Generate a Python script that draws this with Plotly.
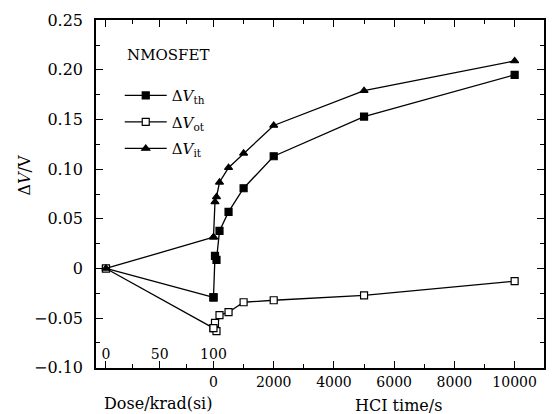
import plotly.graph_objects as go

# ---- data ----
dose = [0, 100]
dose_vth = [0, -0.029]
dose_vot = [0, -0.060]
dose_vit = [0, 0.0315]

hci_time = [0, 50, 100, 200, 500, 1000, 2000, 5000, 10000]
hci_vth = [-0.029, 0.0127, 0.0087, 0.0378, 0.057, 0.0808, 0.113, 0.153, 0.195]
hci_vot = [-0.060, -0.0547, -0.063, -0.047, -0.044, -0.034, -0.032, -0.027, -0.0128]
hci_vit = [0.0315, 0.067, 0.072, 0.0868, 0.1015, 0.116, 0.144, 0.179, 0.209]

time_ticks = [0, 2000, 4000, 6000, 8000, 10000]
time_labels = ["0", "2000", "4000", "6000", "8000", "10000"]
time_minor = [1000, 3000, 5000, 7000, 9000]
dose_ticks = [0, 50, 100]
dose_minor = [25, 75]
y_ticks = [0.25, 0.20, 0.15, 0.10, 0.05, 0, -0.05, -0.10]
y_labels = ["0.25", "0.20", "0.15", "0.10", "0.05", "0", "\u22120.05", "\u22120.10"]

FONT = "DejaVu Serif"
series = [
    ("\u0394<i>V</i><sub>th</sub>", dose_vth, hci_vth, "square"),
    ("\u0394<i>V</i><sub>ot</sub>", dose_vot, hci_vot, "square-open"),
    ("\u0394<i>V</i><sub>it</sub>", dose_vit, hci_vit, "triangle-up"),
]

fig = go.Figure()
for i, (name, dv, hv, sym) in enumerate(series):
    is_open = "open" in sym
    mk = dict(symbol="square" if is_open else sym, size=7,
              color="white" if is_open else "black",
              line=dict(color="black", width=1.2))
    fig.add_trace(go.Scatter(x=hci_time, y=hv, mode="lines+markers", name=name,
                             legendgroup=str(i), showlegend=True,
                             line=dict(color="black", width=1.3), marker=mk,
                             xaxis="x", yaxis="y"))
    fig.add_trace(go.Scatter(x=dose, y=dv, mode="lines+markers", name=name,
                             legendgroup=str(i), showlegend=False,
                             line=dict(color="black", width=1.3), marker=mk,
                             xaxis="x2", yaxis="y"))

# invisible carrier so the dose tick-label axis is drawn
fig.add_trace(go.Scatter(x=dose, y=dose_vth, mode="markers", opacity=0, showlegend=False,
                         hoverinfo="skip", xaxis="x3", yaxis="y"))

tf14 = dict(family=FONT, size=14, color="black")
tf15 = dict(family=FONT, size=15, color="black")
tf16 = dict(family=FONT, size=16, color="black")
axis_common = dict(linecolor="black", linewidth=1.5, mirror="ticks",
                   ticks="inside", tickcolor="black", tickwidth=1, showgrid=False,
                   zeroline=False)
DOSE_RANGE = [-9.26, 407.4]

fig.update_layout(
    width=552, height=414,
    margin=dict(l=96, r=6, t=20, b=46),
    paper_bgcolor="white", plot_bgcolor="white",
    font=dict(family=FONT, size=15, color="black"),
    xaxis=dict(range=[-3901, 10975], tickvals=time_ticks, ticktext=time_labels, ticklen=7,
               showline=True, tickfont=tf14,
               minor=dict(tickvals=time_minor, ticks="inside", ticklen=4, tickcolor="black"),
               **axis_common),
    xaxis2=dict(range=DOSE_RANGE, overlaying="x", anchor="y", side="bottom",
                tickvals=dose_ticks, ticklen=7, showticklabels=False, showline=False,
                minor=dict(tickvals=dose_minor, ticks="inside", ticklen=4, tickcolor="black"),
                **axis_common),
    xaxis3=dict(range=DOSE_RANGE, overlaying="x", anchor="free", position=0.068, side="bottom",
                tickvals=dose_ticks, ticks="", showline=False, showgrid=False, zeroline=False,
                tickfont=tf14),
    yaxis=dict(range=[-0.1002, 0.2502], tickvals=y_ticks, ticktext=y_labels, ticklen=7,
               showline=True, tickfont=tf16,
               minor=dict(dtick=0.025, tick0=0, ticks="inside", ticklen=4, tickcolor="black"),
               ticklabelstandoff=8, **axis_common),
    showlegend=True,
    legend=dict(x=0.053, y=0.83, xanchor="left", yanchor="top", bgcolor="rgba(0,0,0,0)",
                font=tf15, tracegroupgap=4, itemwidth=42),
    annotations=[
        dict(text="NMOSFET", x=0.064, y=0.899, xref="paper", yref="paper",
             xanchor="left", yanchor="middle", showarrow=False, font=tf15),
        dict(text="\u0394<i>V</i>/V", x=-0.16, y=0.554, xref="paper", yref="paper",
             textangle=-90, xanchor="center", yanchor="middle", showarrow=False, font=tf16),
        dict(text="Dose/krad(si)", x=0.138, y=-0.1006, xref="paper", yref="paper",
             xanchor="center", yanchor="middle", showarrow=False, font=tf16),
        dict(text="HCI time/s", x=0.676, y=-0.109, xref="paper", yref="paper",
             xanchor="center", yanchor="middle", showarrow=False, font=tf16),
    ],
)

fig.write_html("out.html")
